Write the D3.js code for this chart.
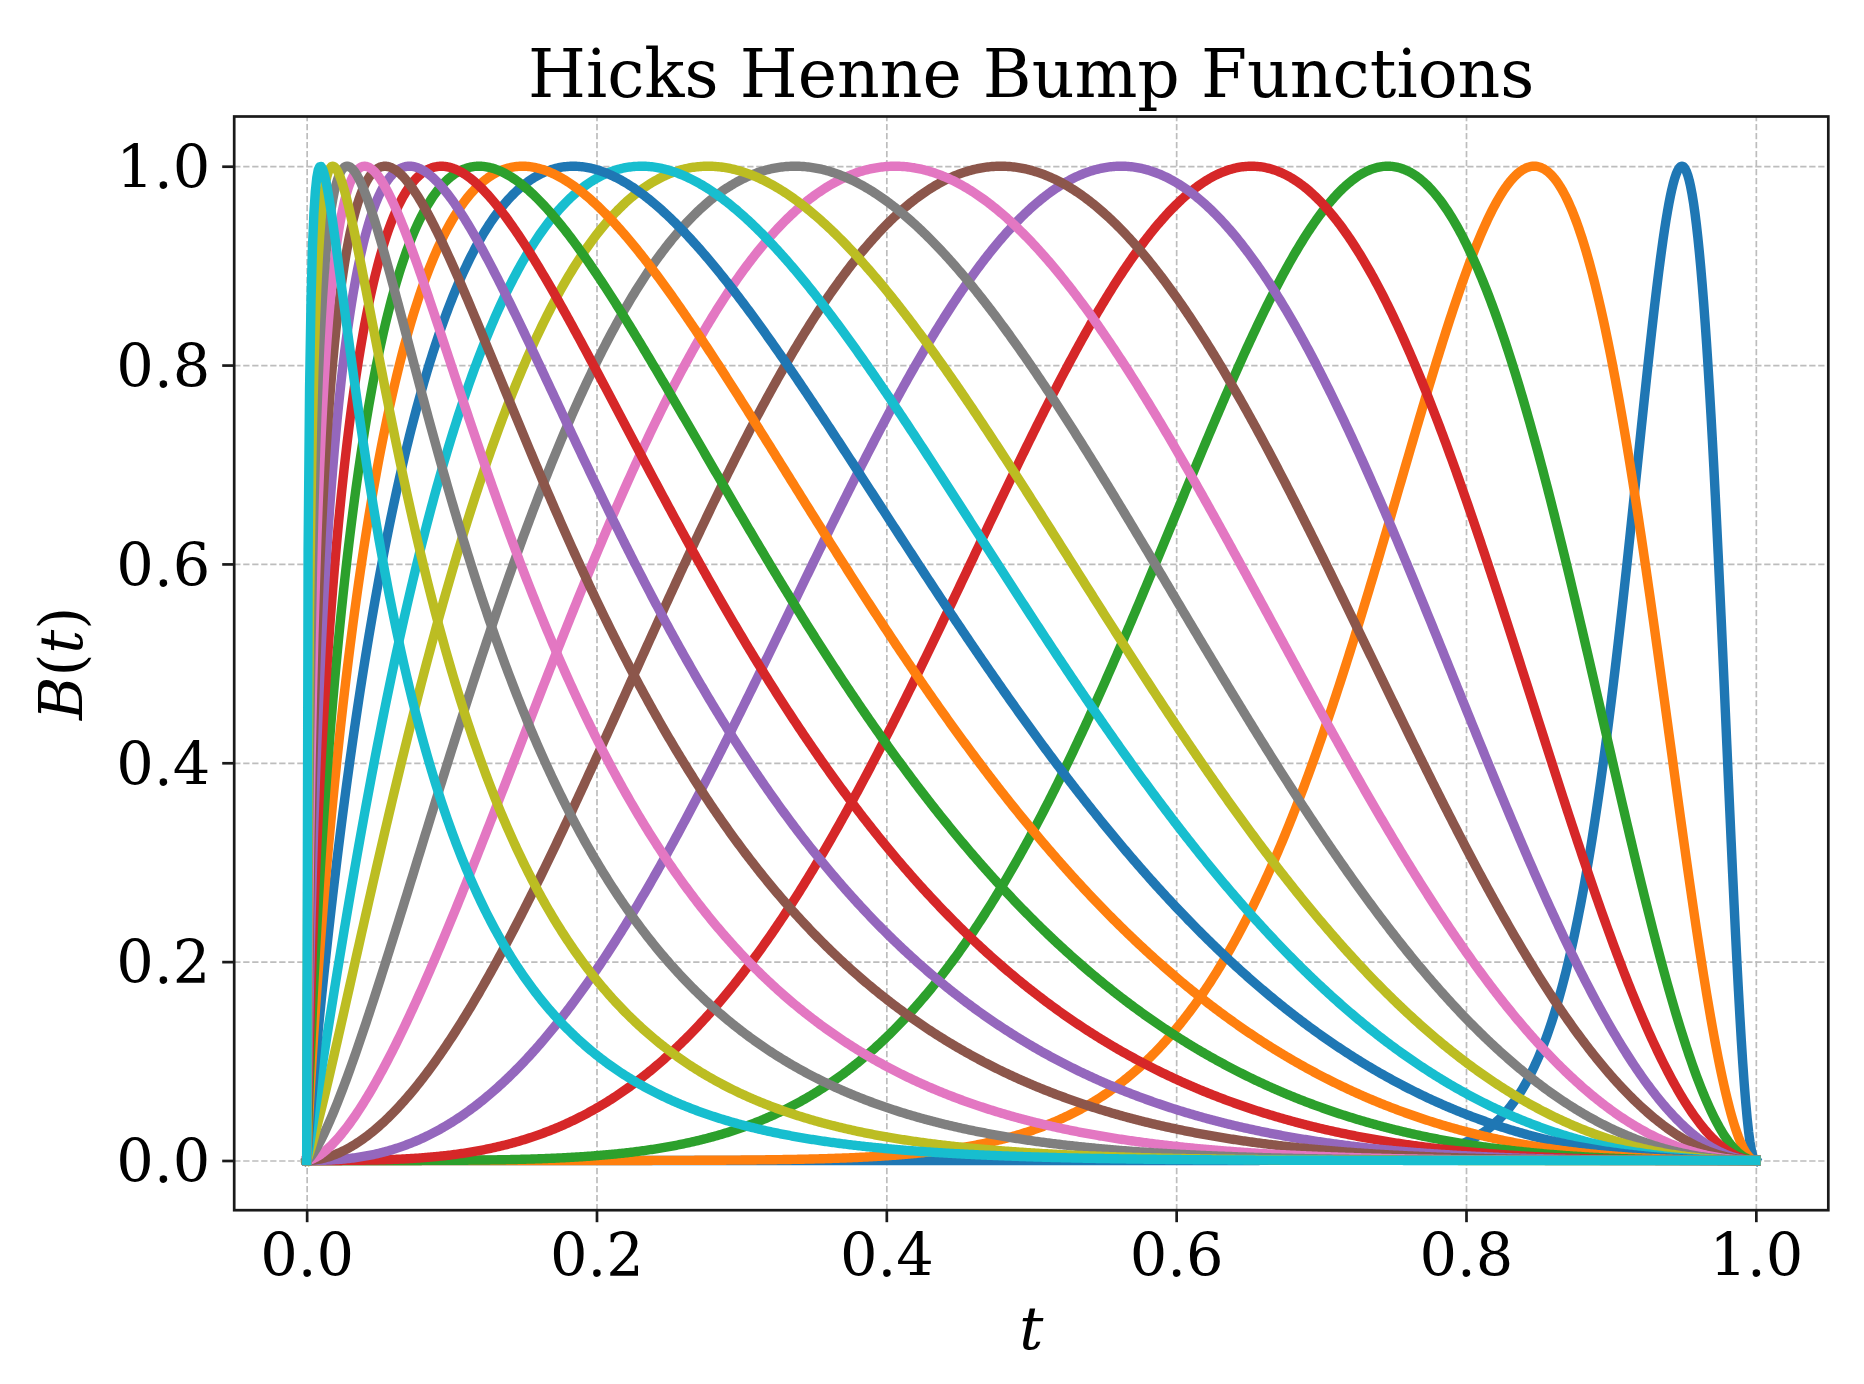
<!DOCTYPE html>
<html><head><meta charset="utf-8">
<script src="https://cdn.jsdelivr.net/npm/d3@7"></script>
<style>
body{margin:0;background:#fff}
svg{display:block}
text{font-family:"DejaVu Serif",serif;fill:#000}
</style>
</head><body>
<svg id="chart" width="1864" height="1384"></svg>
<script>
// Peak locations h of each Hicks-Henne bump, in plotting order
const peakLocations = [0.949, 0.847, 0.746, 0.652, 0.562, 0.479, 0.406, 0.337, 0.277, 0.231,
                       0.184, 0.149, 0.119, 0.093, 0.071, 0.054, 0.040, 0.028, 0.018, 0.0095];
// Width exponents w of each bump
const widthExponents = [2.2, 2.0, 2.0, 2.0, 2.0, 2.0, 2.1, 2.15, 2.2, 2.3,
                        2.35, 2.5, 2.7, 2.9, 3.1, 3.3, 3.75, 4.1, 4.6, 4.7];
const seriesColors = ["#1f77b4","#ff7f0e","#2ca02c","#d62728","#9467bd",
                      "#8c564b","#e377c2","#7f7f7f","#bcbd22","#17becf"];
const xTickValues = [0.0, 0.2, 0.4, 0.6, 0.8, 1.0];
const yTickValues = [0.0, 0.2, 0.4, 0.6, 0.8, 1.0];
const titleText = "Hicks Henne Bump Functions";

const svg = d3.select("#chart");
const L = 234.2, R = 1828.3, T = 116.5, B = 1210.2;
const x = d3.scaleLinear().domain([-0.05, 1.05]).range([L, R]);
const y = d3.scaleLinear().domain([-0.05, 1.05]).range([B, T]);

// grid
const gridG = svg.append("g");
gridG.append("g").attr("transform", `translate(0,${B})`)
  .call(d3.axisBottom(x).tickValues(xTickValues).tickSize(-(B - T)).tickFormat(""))
  .call(g => g.select(".domain").remove());
gridG.append("g").attr("transform", `translate(${L},0)`)
  .call(d3.axisLeft(y).tickValues(yTickValues).tickSize(-(R - L)).tickFormat(""))
  .call(g => g.select(".domain").remove());
gridG.selectAll("line").attr("stroke", "#bdbdbd").attr("stroke-width", 1.7)
  .attr("stroke-dasharray", "6.3,2.7");

// curves
const tSamples = d3.range(0, 1001).map(i => i / 1000);
function bump(t, h, w) {
  const m = Math.log(0.5) / Math.log(h);
  const s = Math.sin(Math.PI * Math.pow(t, m));
  return Math.pow(Math.max(0, s), w);
}
const line = d3.line().x(d => x(d[0])).y(d => y(d[1]));
const curvesG = svg.append("g");
peakLocations.forEach((h, i) => {
  const pts = tSamples.map(t => [t, bump(t, h, widthExponents[i])]);
  curvesG.append("path").attr("d", line(pts)).attr("fill", "none")
    .attr("stroke", seriesColors[i % seriesColors.length])
    .attr("stroke-width", 9.4).attr("stroke-linecap", "square").attr("stroke-linejoin", "round");
});

// frame
svg.append("rect").attr("x", L).attr("y", T).attr("width", R - L).attr("height", B - T)
  .attr("fill", "none").attr("stroke", "#1a1a1a").attr("stroke-width", 2.7);

// axes
const fmt = d3.format(".1f");
const xAx = svg.append("g").attr("transform", `translate(0,${B})`)
  .call(d3.axisBottom(x).tickValues(xTickValues).tickSize(12).tickPadding(12).tickFormat(fmt));
const yAx = svg.append("g").attr("transform", `translate(${L},0)`)
  .call(d3.axisLeft(y).tickValues(yTickValues).tickSize(12).tickPadding(12).tickFormat(fmt));
[xAx, yAx].forEach(a => {
  a.select(".domain").remove();
  a.selectAll("line").attr("stroke", "#1a1a1a").attr("stroke-width", 2.7);
  a.selectAll("text").attr("font-family", "DejaVu Serif").attr("font-size", 59).attr("fill", "#000");
});
yAx.selectAll("text").attr("dy", "0.36em");

// title
svg.append("text").attr("x", (L + R) / 2).attr("y", 96.7).attr("text-anchor", "middle")
  .attr("font-size", 66.4).text(titleText);

// x label
svg.append("text").attr("x", (L + R) / 2).attr("y", 1349).attr("text-anchor", "middle")
  .attr("font-size", 60).attr("font-style", "italic").text("t");

// y label
const yl = svg.append("text").attr("transform", `translate(82,${(T + B) / 2}) rotate(-90)`)
  .attr("text-anchor", "middle").attr("font-size", 59);
yl.append("tspan").attr("font-style", "italic").text("B");
yl.append("tspan").text("(");
yl.append("tspan").attr("font-style", "italic").text("t");
yl.append("tspan").text(")");
</script>
</body></html>
